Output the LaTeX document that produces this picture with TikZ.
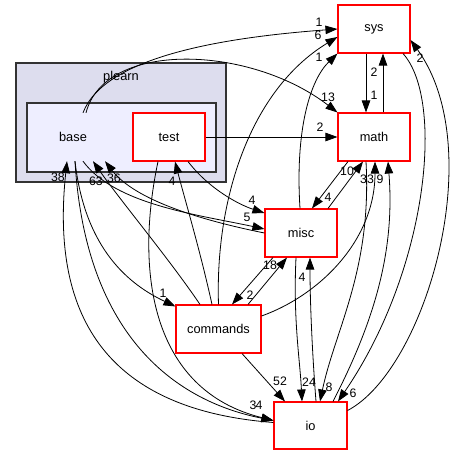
\documentclass[tikz,border=0pt]{standalone}
\usepackage{fontspec}
\setmainfont{Liberation Sans}
\usetikzlibrary{arrows.meta}
\definecolor{plearnfill}{HTML}{DDDDEE}
\definecolor{basefill}{HTML}{EEEEFF}
\begin{document}
\begin{tikzpicture}[x=1pt,y=-1pt,
	font=\fontsize{12.8}{15}\selectfont,
	dirbox/.style={shape=rectangle,draw=red,fill=white,line width=1.1pt,minimum width=72pt,minimum height=48pt,inner sep=0pt},
	clusterbox/.style={shape=rectangle,draw=black!80,line width=1.3pt,inner sep=0pt},
	dep/.style={-{Triangle[length=12pt,width=8.5pt]},line width=0.8pt},
	lbl/.style={inner sep=0pt,font=\fontsize{12.3}{14}\selectfont}]
	
	\useasboundingbox (0,0) rectangle (458,455);
	
	\node[clusterbox,fill=plearnfill,minimum width=210pt,minimum height=119pt] (plearn) at (121,122.5) {};
	\node (plearnlbl) at (121,77) {plearn};
	\node[clusterbox,fill=basefill,minimum width=189pt,minimum height=69pt] (basecl) at (121.5,137.5) {};
	\node[minimum width=74pt,minimum height=48pt,inner sep=0pt] (base) at (73,137) {base};
	
	\node[dirbox] (test) at (169,137)         {test};
	\node[dirbox] (sys) at (374,29)           {sys};
	\node[dirbox] (math) at (374,137)         {math};
	\node[dirbox] (misc) at (301,233)         {misc};
	\node[dirbox,minimum width=85pt] (commands) at (218.5,329) {commands};
	\node[dirbox,minimum width=73pt,minimum height=47pt] (io) at (310.5,425.5) {io};
	
	% base
	\draw[dep] ([xshift=10pt]base.north) .. controls (105,55) and (230,37) .. (sys.west);
	\draw[dep] ([xshift=13pt]base.north) .. controls (105,40) and (250,45) .. (math.north west);
	\draw[dep] ([xshift=2pt]base.south) .. controls (85,330) and (170,400) .. ([yshift=5pt]io.west);
	\draw[dep] ([xshift=2pt]base.south) .. controls (85,250) and (130,285) .. ([yshift=-2pt]commands.north west);
	\draw[dep] ([xshift=10pt]base.south) .. controls (115,205) and (200,215) .. ([yshift=4pt]misc.west);
	
	% test
	\draw[dep] (test.east) -- (math.west);
	\draw[dep] ([xshift=19pt]test.south) .. controls (210,190) and (240,205) .. ([yshift=20pt]misc.west);
	\draw[dep] ([xshift=-11pt]test.south) .. controls (135,270) and (150,390) .. ([yshift=5pt]io.west);
	
	% sys and math
	\draw[dep] ([xshift=-8pt]sys.south) -- ([xshift=-8pt]math.north);
	\draw[dep] ([xshift=9pt]math.north) -- ([xshift=9pt]sys.south);
	\draw[dep] ([xshift=29pt]sys.south) .. controls (445,100) and (428,270) .. ([xshift=27.5pt]io.north);
	\draw[dep] ([xshift=-26pt]math.south) -- ([xshift=11pt]misc.north);
	\draw[dep] ([xshift=-8pt]math.south) .. controls (372,270) and (335,330) .. ([xshift=9.5pt]io.north);
	
	% misc
	\draw[dep] ([xshift=27pt]misc.north) -- ([xshift=-11pt]math.south);
	\draw[dep] ([xshift=-1pt]misc.north) .. controls (295,130) and (310,80) .. (sys.south west);
	\draw[dep] (misc.west) .. controls (200,220) and (135,200) .. ([xshift=32pt]base.south);
	\draw[dep] ([xshift=-28pt]misc.south) -- ([xshift=13.5pt]commands.north);
	\draw[dep] ([xshift=-5pt]misc.south) .. controls (293,320) and (300,360) .. ([xshift=-8.5pt]io.north);
	
	% commands
	\draw[dep] ([xshift=-18.5pt]commands.north) .. controls (170,260) and (120,200) .. ([xshift=20pt]base.south);
	\draw[dep] ([xshift=-6.5pt]commands.north) .. controls (200,250) and (185,200) .. ([xshift=6pt]test.south);
	\draw[dep] (commands.north) .. controls (215,200) and (250,90) .. ([yshift=-8pt]sys.west);
	\draw[dep] ([xshift=29.5pt]commands.north) -- ([xshift=-14pt]misc.south);
	\draw[dep] ([yshift=13pt]commands.east) .. controls (320,295) and (375,240) .. ([xshift=1pt]math.south);
	\draw[dep] ([xshift=23.5pt]commands.south) -- ([xshift=-25.5pt]io.north);
	
	% io
	\draw[dep] ([yshift=3pt]io.west) .. controls (110,410) and (50,320) .. ([xshift=-6pt]base.south);
	\draw[dep] ([xshift=22.5pt]io.north) .. controls (375,320) and (395,250) .. ([xshift=14pt]math.south);
	\draw[dep] ([xshift=5.5pt]io.north) .. controls (312,350) and (310,300) .. ([xshift=9pt]misc.south);
	\draw[dep] ([yshift=15pt]io.east) .. controls (425,370) and (490,150) .. ([yshift=-11pt]sys.east);
	
	% counts
	\node[lbl] (l1) at (319,22)  {1};
	\node[lbl] (l2) at (318,35)  {6};
	\node[lbl] (l3) at (319,57)  {1};
	\node[lbl] (l4) at (374,72)  {2};
	\node[lbl] (l5) at (374,95)  {1};
	\node[lbl] (l6) at (328,97)  {13};
	\node[lbl] (l7) at (320,127) {2};
	\node[lbl] (l8) at (347,171) {10};
	\node[lbl] (l9) at (367,179) {33};
	\node[lbl] (l10) at (380,179) {9};
	\node[lbl] (l11) at (328,197) {4};
	\node[lbl] (l12) at (252,200) {4};
	\node[lbl] (l13) at (247,217) {5};
	\node[lbl] (l14) at (420,58)  {2};
	\node[lbl] (l15) at (270,265) {18};
	\node[lbl] (l16) at (250,295) {2};
	\node[lbl] (l17) at (163,293) {1};
	\node[lbl] (l18) at (302,277) {4};
	\node[lbl] (l19) at (280,381) {52};
	\node[lbl] (l20) at (309,382) {24};
	\node[lbl] (l21) at (329,387) {8};
	\node[lbl] (l22) at (353,393) {6};
	\node[lbl] (l23) at (253,405) {3};
	\node[lbl] (l24) at (259,405) {4};
	\node[lbl] (l25) at (58,177)  {38};
	\node[lbl] (l26) at (96,181)  {63};
	\node[lbl] (l27) at (114,178) {36};
	\node[lbl] (l28) at (172,181) {4};
\end{tikzpicture}
\end{document}
